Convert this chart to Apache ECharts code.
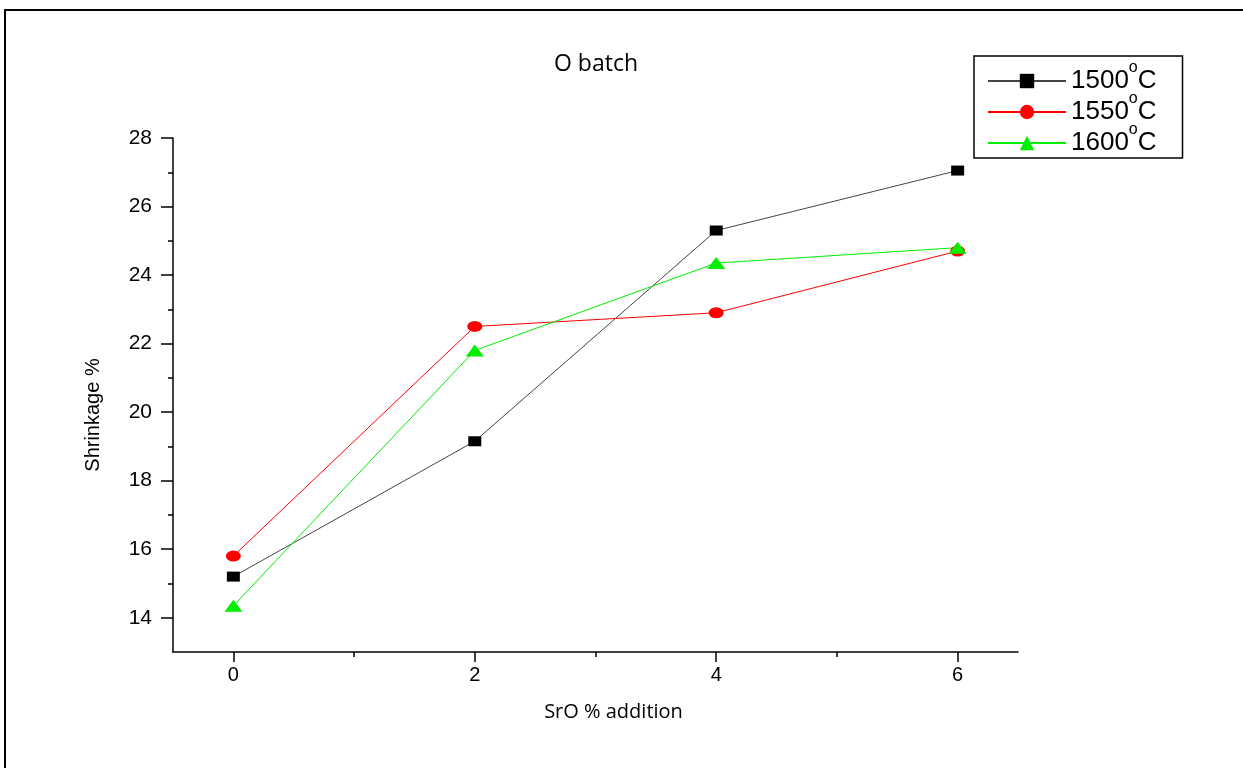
<!DOCTYPE html>
<html lang="en">
<head>
	<meta charset="UTF-8">
	<title>O batch</title>
	<script src="https://cdn.jsdelivr.net/npm/echarts@6/dist/echarts.min.js"></script>
	<style>
		html, body { margin: 0; padding: 0; background: #fff; }
	</style>
</head>
<body>
	<div id="main" style="width: 1243px;height:768px;"></div>
	<script type="text/javascript">
	// SrO % addition
	var sro = [0, 2, 4, 6];
	// shrinkage % per firing temperature
	var s1500 = [15.2, 19.15, 25.3, 27.05];
	var s1550 = [15.8, 22.5, 22.9, 24.7];
	var s1600 = [14.35, 21.8, 24.35, 24.8];
	var yMajor = [14, 16, 18, 20, 22, 24, 26, 28];
	var yMinor = [15, 17, 19, 21, 23, 25, 27];
	var xMajor = [0, 2, 4, 6];
	var xMinor = [1, 3, 5];

	function pairs(ys) {
		return sro.map(function (x, i) { return [x, ys[i]]; });
	}

	var myChart = echarts.init(document.getElementById('main'));

	var option = {
		animation: false,
		title: {
			text: 'O batch',
			left: 591, top: 48, textAlign: 'center',
			textStyle: { fontFamily: 'Open Sans', fontWeight: 'normal', fontSize: 23, color: '#000' }
		},
		// outer frame of the figure
		graphic: [{
			type: 'rect',
			shape: { x: 5, y: 10, width: 1300, height: 800 },
			style: { fill: 'none', stroke: '#000', lineWidth: 2 }
		}],
		legend: {
			orient: 'vertical',
			left: 974, top: 56,
			borderColor: '#000', borderWidth: 1.5,
			padding: [4, 26, 0, 13],
			itemWidth: 78, itemHeight: 18, itemGap: -5,
			formatter: function (name) {
				return '{n|' + name.replace('°C', '') + '}{s|o}{n|C}';
			},
			textStyle: {
				fontSize: 26,
				rich: {
					n: { fontFamily: 'Liberation Sans', fontSize: 26, lineHeight: 30, color: '#000' },
					s: { fontFamily: 'Liberation Sans', fontSize: 16, lineHeight: 16, color: '#000', verticalAlign: 'bottom', padding: [0, 0, 20, 0] }
				}
			},
			data: ['1500°C', '1550°C', '1600°C']
		},
		grid: { left: 173, right: 225, top: 138, bottom: 116 },
		xAxis: [{
			type: 'value', min: -0.5, max: 6.5, interval: 0.5,
			name: 'SrO % addition', nameLocation: 'middle', nameGap: 50,
			nameTextStyle: { fontFamily: 'Open Sans', fontSize: 20, color: '#000', padding: [0, 0, 0, 36] },
			axisLine: { onZero: false, lineStyle: { color: '#000', width: 1.5 } },
			axisTick: { customValues: xMajor, length: 10, lineStyle: { color: '#000', width: 1.5 } },
			axisLabel: {
				fontFamily: 'Liberation Sans', fontSize: 20, color: '#000', margin: 13,
				formatter: function (v) { return xMajor.indexOf(v) >= 0 ? String(v) : ''; }
			},
			splitLine: { show: false }
		}, {
			type: 'value', min: -0.5, max: 6.5, position: 'bottom',
			axisLine: { show: false, onZero: false },
			axisTick: { customValues: xMinor, length: 5, lineStyle: { color: '#000', width: 1.5 } },
			axisLabel: { show: false },
			splitLine: { show: false }
		}],
		yAxis: [{
			type: 'value', min: 13, max: 28, interval: 1,
			name: 'Shrinkage %', nameLocation: 'middle', nameGap: 70, nameRotate: 90,
			nameTextStyle: { fontFamily: 'Liberation Sans', fontSize: 20, color: '#000', padding: [0, 40, 0, 0] },
			axisLine: { show: true, onZero: false, lineStyle: { color: '#000', width: 1.5 } },
			axisTick: { show: true, customValues: yMajor, length: 12, lineStyle: { color: '#000', width: 1.5 } },
			axisLabel: {
				fontFamily: 'Liberation Sans', fontSize: 21, color: '#000', margin: 21,
				formatter: function (v) { return yMajor.indexOf(v) >= 0 ? String(v) : ''; }
			},
			splitLine: { show: false }
		}, {
			type: 'value', min: 13, max: 28, position: 'left',
			axisLine: { show: false, onZero: false },
			axisTick: { show: true, customValues: yMinor, length: 5, lineStyle: { color: '#000', width: 1.5 } },
			axisLabel: { show: false },
			splitLine: { show: false }
		}],
		series: [{
			name: '1500°C', type: 'line',
			symbol: 'rect', symbolSize: [13, 10],
			itemStyle: { color: '#000' },
			lineStyle: { color: '#444', width: 1 },
			data: pairs(s1500)
		}, {
			name: '1550°C', type: 'line',
			symbol: 'circle', symbolSize: [15, 11],
			itemStyle: { color: '#ff0000' },
			lineStyle: { color: '#ff0000', width: 1 },
			data: pairs(s1550)
		}, {
			name: '1600°C', type: 'line',
			symbol: 'triangle', symbolSize: [18, 12],
			itemStyle: { color: '#00ee00' },
			lineStyle: { color: '#00ee00', width: 1 },
			data: pairs(s1600)
		}]
	};
	myChart.setOption(option);
	</script>
</body>
</html>
